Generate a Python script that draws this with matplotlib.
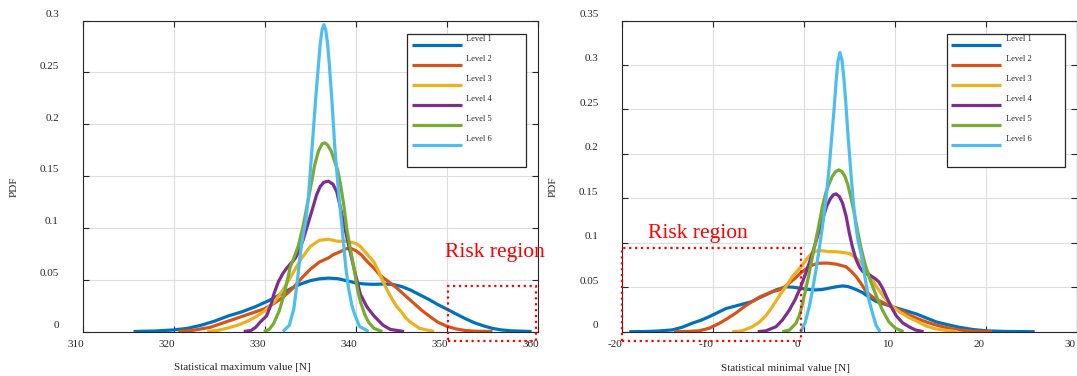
import numpy as np
import matplotlib
matplotlib.use('Agg')
import matplotlib.pyplot as plt
from matplotlib.patches import Rectangle
from matplotlib.transforms import ScaledTranslation

plt.rcParams['font.family'] = ['Liberation Serif', 'DejaVu Serif']
plt.rcParams['axes.unicode_minus'] = False

levels = ['Level 1', 'Level 2', 'Level 3', 'Level 4', 'Level 5', 'Level 6']
colors = ['#0072BD', '#D95319', '#EDB120', '#7E2F8E', '#77AC30', '#4DBEEE']

#------- statistical maximum value [N]
max_x1 = [315.6, 318, 320, 321.5, 323, 324.5, 326, 327.5, 329, 330.5, 332, 333, 334, 335, 336,
          337, 338, 339, 340, 341, 342, 343, 344, 345, 346, 347, 348, 349, 350, 351, 352,
          353, 354, 355, 356, 357, 359.3]
max_p1 = [0, 0.0005, 0.0015, 0.003, 0.006, 0.010, 0.015, 0.019, 0.024, 0.030, 0.037, 0.042,
          0.046, 0.049, 0.0508, 0.0515, 0.051, 0.049, 0.0468, 0.0458, 0.0455, 0.0458, 0.0455,
          0.0435, 0.040, 0.0355, 0.031, 0.026, 0.0215, 0.017, 0.0125, 0.0085, 0.0055, 0.003,
          0.0015, 0.0007, 0]
max_x2 = [320.5, 322, 324, 326, 328, 330, 331, 332, 333, 334, 335, 336, 337, 337.5, 338.3,
          339, 339.5, 340, 340.6, 341.2, 342, 342.7, 343.6, 344.5, 345.5, 346.4, 347.3, 348.2,
          349, 350, 351, 352, 353, 355]
max_p2 = [0, 0.001, 0.004, 0.010, 0.016, 0.022, 0.027, 0.033, 0.041, 0.051, 0.060, 0.067,
          0.071, 0.074, 0.077, 0.080, 0.080, 0.078, 0.074, 0.068, 0.061, 0.054, 0.048, 0.042,
          0.034, 0.027, 0.020, 0.014, 0.009, 0.005, 0.0025, 0.001, 0.0003, 0]
max_x3 = [323.7, 324.8, 325.8, 327, 328, 329, 330, 331, 332, 333, 334, 335, 336, 337, 338,
          339, 340, 340.5, 341, 341.5, 342, 342.5, 343, 343.5, 344, 344.5, 345, 345.5, 346,
          347, 348.6]
max_p3 = [0, 0.001, 0.003, 0.006, 0.0095, 0.014, 0.020, 0.028, 0.040, 0.055, 0.070, 0.082,
          0.088, 0.089, 0.087, 0.087, 0.085, 0.082, 0.077, 0.072, 0.067, 0.058, 0.048, 0.039,
          0.031, 0.024, 0.019, 0.013, 0.009, 0.003, 0]
max_x4 = [327.7, 328.5, 329, 329.5, 330.2, 330.7, 331.0, 331.5, 332.0, 332.4, 332.9, 333.3,
          333.7, 334.2, 334.6, 335.2, 335.7, 336.1, 336.5, 337.0, 337.5, 337.9, 338.3, 338.8,
          339.3, 339.8, 340.5, 341.2, 342.0, 343.0, 343.8, 345.3]
max_p4 = [0, 0.001, 0.004, 0.009, 0.015, 0.026, 0.036, 0.048, 0.056, 0.061, 0.066, 0.070,
          0.076, 0.088, 0.0995, 0.117, 0.132, 0.140, 0.144, 0.145, 0.142, 0.135, 0.120, 0.0995,
          0.080, 0.061, 0.036, 0.024, 0.015, 0.006, 0.002, 0]
max_x5 = [329.9, 330.5, 331, 331.6, 332.1, 332.5, 332.8, 333.2, 333.7, 334.2, 334.6, 335.1,
          335.5, 335.9, 336.3, 336.6, 336.9, 337.3, 337.6, 338.0, 338.3, 338.7, 339.0, 339.4,
          339.8, 340.2, 340.5, 341.0, 341.4, 342.0, 342.9]
max_p5 = [0, 0.002, 0.008, 0.020, 0.035, 0.050, 0.062, 0.071, 0.083, 0.101, 0.119, 0.142,
          0.161, 0.174, 0.181, 0.182, 0.180, 0.174, 0.166, 0.156, 0.143, 0.121, 0.0995, 0.080,
          0.061, 0.040, 0.029, 0.016, 0.009, 0.003, 0]
max_x6 = [332.0, 332.7, 333.2, 333.6, 333.9, 334.2, 334.5, 334.8, 335.2, 335.6, 335.9, 336.1,
          336.3, 336.5, 336.7, 336.9, 337.1, 337.4, 337.7, 338.1, 338.5, 338.9, 339.2, 339.6,
          339.9, 340.4, 341.4]
max_p6 = [0, 0.006, 0.022, 0.050, 0.074, 0.092, 0.106, 0.130, 0.177, 0.225, 0.257, 0.278,
          0.291, 0.296, 0.291, 0.278, 0.257, 0.220, 0.177, 0.135, 0.0995, 0.062, 0.042, 0.024,
          0.016, 0.005, 0]

#------- statistical minimal value [N]
min_x1 = [-19.2, -17.5, -16, -14.5, -13.4, -12.3, -11.3, -10.4, -9.5, -8.6, -7.5, -6.4, -5.7,
          -4.95, -4.0, -3.1, -2.0, -1.2, -0.5, 0.4, 1.3, 2.0, 2.75, 3.5, 4.2, 4.8, 5.3, 5.9,
          6.4, 7.1, 7.9, 8.8, 9.7, 11.0, 12.3, 13.4, 14.5, 15.7, 17, 18.5, 20, 22, 25.3]
min_p1 = [0, 0.0002, 0.0008, 0.002, 0.005, 0.0095, 0.013, 0.017, 0.0215, 0.026, 0.029, 0.032,
          0.034, 0.038, 0.0425, 0.047, 0.0505, 0.050, 0.049, 0.0475, 0.047, 0.0475, 0.049,
          0.0505, 0.0515, 0.0508, 0.049, 0.0465, 0.044, 0.039, 0.034, 0.031, 0.028, 0.024,
          0.020, 0.0155, 0.011, 0.008, 0.005, 0.0025, 0.001, 0.0003, 0]
min_x2 = [-14.3, -12.8, -11.5, -10.4, -9.3, -8.4, -7.5, -6.6, -5.7, -4.9, -4.2, -3.5, -2.75,
          -2.2, -1.65, -1.0, -0.4, 0.25, 0.9, 1.65, 2.5, 3.5, 4.6, 5.15, 5.7, 6.25, 6.8, 7.5,
          8.2, 9.0, 9.9, 10.8, 11.7, 12.5, 13.4, 14.3, 15.2, 16.1, 17, 18.5, 20.6]
min_p2 = [0, 0.0003, 0.001, 0.004, 0.0095, 0.015, 0.021, 0.028, 0.034, 0.039, 0.042, 0.045,
          0.047, 0.050, 0.0545, 0.060, 0.066, 0.071, 0.075, 0.077, 0.0772, 0.076, 0.073, 0.068,
          0.062, 0.054, 0.045, 0.039, 0.035, 0.031, 0.027, 0.0225, 0.018, 0.0145, 0.011, 0.008,
          0.0056, 0.0035, 0.002, 0.0006, 0]
min_x3 = [-7.9, -6.8, -5.7, -4.9, -4.2, -3.5, -2.75, -2.0, -1.3, -0.7, -0.2, 0.3, 0.9, 1.45,
          2.0, 2.7, 3.5, 4.3, 4.95, 5.4, 5.9, 6.35, 6.8, 7.35, 7.9, 8.7, 9.5, 10.5, 11.5, 12.5,
          13.4, 14.3, 15.2, 16.8]
min_p3 = [0, 0.001, 0.0056, 0.011, 0.018, 0.028, 0.040, 0.051, 0.062, 0.069, 0.075, 0.082,
          0.089, 0.091, 0.091, 0.090, 0.090, 0.089, 0.088, 0.085, 0.081, 0.076, 0.070, 0.061,
          0.051, 0.040, 0.030, 0.022, 0.016, 0.011, 0.0064, 0.0035, 0.002, 0]
min_x4 = [-5.1, -4.2, -3.1, -2.4, -1.65, -1.0, -0.4, 0.25, 0.9, 1.45, 2.0, 2.5, 2.9, 3.2, 3.5,
          3.85, 4.2, 4.6, 4.95, 5.3, 5.7, 6.05, 6.4, 6.85, 7.3, 7.75, 8.2, 8.6, 9.0, 9.5, 10.1,
          10.8, 11.5, 12.2, 13.1]
min_p4 = [0, 0.001, 0.0056, 0.013, 0.024, 0.036, 0.050, 0.068, 0.088, 0.107, 0.126, 0.142,
          0.150, 0.154, 0.155, 0.152, 0.145, 0.130, 0.111, 0.095, 0.081, 0.073, 0.068, 0.065,
          0.063, 0.060, 0.056, 0.049, 0.040, 0.029, 0.018, 0.010, 0.0056, 0.002, 0]
min_x5 = [-2.4, -1.6, -0.9, -0.5, -0.18, 0.2, 0.55, 0.9, 1.28, 1.65, 2.0, 2.4, 2.75, 3.1,
          3.45, 3.8, 4.15, 4.5, 4.8, 5.15, 5.5, 5.85, 6.2, 6.65, 7.1, 7.55, 8.0, 8.6, 9.3,
          10.0, 10.9]
min_p5 = [0, 0.002, 0.0095, 0.019, 0.032, 0.049, 0.066, 0.084, 0.103, 0.122, 0.141, 0.157,
          0.167, 0.175, 0.180, 0.182, 0.180, 0.174, 0.165, 0.150, 0.133, 0.114, 0.096, 0.077,
          0.062, 0.050, 0.038, 0.024, 0.011, 0.004, 0]
min_x6 = [-0.4, 0.1, 0.55, 0.9, 1.28, 1.65, 2.0, 2.4, 2.75, 3.05, 3.3, 3.5, 3.7, 3.92, 4.15,
          4.35, 4.55, 4.8, 5.13, 5.4, 5.68, 5.95, 6.23, 6.5, 6.78, 7.1, 7.5, 7.9, 8.33]
min_p6 = [0, 0.010, 0.028, 0.046, 0.069, 0.093, 0.118, 0.150, 0.186, 0.222, 0.253, 0.281,
          0.304, 0.314, 0.305, 0.286, 0.260, 0.222, 0.178, 0.145, 0.118, 0.100, 0.088, 0.072,
          0.0545, 0.036, 0.0207, 0.007, 0]

max_ticks = [310, 320, 330, 340, 350, 360]
min_ticks = [-20, -10, 0, 10, 20, 30]
max_yticks = [0, 0.05, 0.1, 0.15, 0.2, 0.25, 0.3]
min_yticks = [0, 0.05, 0.1, 0.15, 0.2, 0.25, 0.3, 0.35]

dpi = 100
ink = '#262626'

fig = plt.figure(figsize=(10.77, 3.76), dpi=dpi)
ax1 = fig.add_axes([82.5 / 1077, 44.5 / 376, 455.5 / 1077, 311 / 376])
ax2 = fig.add_axes([622 / 1077, 44.3 / 376, 455.5 / 1077, 311.2 / 376])


def shift(labels, dx, dy):
    # move tick labels by a few pixels
    off = ScaledTranslation(dx / dpi, dy / dpi, fig.dpi_scale_trans)
    for lab in labels:
        lab.set_transform(lab.get_transform() + off)


def draw_panel(ax, curves, xticks, yticks, xlabel, xlabel_pos, risk_box, risk_text):
    for (x, p), c, name in zip(curves, colors, levels):
        ax.plot(x, p, color=c, lw=2.3, label=name, solid_capstyle='butt',
                solid_joinstyle='round')

    ax.set_xlim(xticks[0], xticks[-1])
    ax.set_ylim(yticks[0], yticks[-1])
    ax.set_xticks(xticks)
    ax.set_xticklabels([str(t) for t in xticks])
    ax.set_yticks(yticks)
    ax.set_yticklabels(['%g' % t for t in yticks])
    ax.tick_params(direction='in', top=True, right=True, length=4, width=0.8,
                   colors=ink, labelsize=8)
    ax.tick_params(axis='x', pad=6.2)
    ax.tick_params(axis='y', pad=17)
    shift(ax.get_xticklabels(), -7, 0)
    shift(ax.get_yticklabels(), 0, 7)

    ax.grid(True, color='#dedede', lw=0.8)
    ax.set_axisbelow(True)
    for s in ax.spines.values():
        s.set_color(ink)
        s.set_linewidth(0.8)

    ax.set_xlabel(xlabel, fontsize=8, color=ink, va='center')
    ax.xaxis.set_label_coords(xlabel_pos, -0.117)
    ax.set_ylabel('PDF', fontsize=8, color=ink, va='center')
    ax.yaxis.set_label_coords(-0.151, 0.465)

    # legend box
    ax.add_patch(Rectangle((0.713, 0.53), 0.26, 0.427, transform=ax.transAxes,
                           facecolor='white', edgecolor=ink, lw=0.9, zorder=4))
    leg = ax.legend(loc='upper left', bbox_to_anchor=(0.7227, 0.952), borderaxespad=0,
                    borderpad=0, frameon=False, fontsize=6, handlelength=6.0,
                    handletextpad=0.52, labelspacing=1.43)
    leg.set_zorder(5)
    for t in leg.get_texts():
        t.set_color(ink)
    for l in leg.get_lines():
        l.set_ydata(np.asarray(l.get_ydata()) - 4.8)

    # risk region
    x0, x1, y0, y1 = risk_box
    ax.add_patch(Rectangle((x0, y0), x1 - x0, y1 - y0, fill=False, edgecolor='red',
                           lw=1.6, ls=':', clip_on=False, zorder=6))
    ax.text(risk_text[0], risk_text[1], 'Risk region', color='red', fontsize=15.5,
            ha='left', va='baseline')


max_curves = [(max_x1, max_p1), (max_x2, max_p2), (max_x3, max_p3),
              (max_x4, max_p4), (max_x5, max_p5), (max_x6, max_p6)]
min_curves = [(min_x1, min_p1), (min_x2, min_p2), (min_x3, min_p3),
              (min_x4, min_p4), (min_x5, min_p5), (min_x6, min_p6)]

draw_panel(ax1, max_curves, max_ticks, max_yticks, 'Statistical maximum value [N]', 0.352,
           (350.1, 359.8, -0.009, 0.044), (349.8, 0.0722))
draw_panel(ax2, min_curves, min_ticks, min_yticks, 'Statistical minimal value [N]', 0.36,
           (-20, -0.3, -0.0105, 0.094), (-17.1, 0.105))

fig.savefig('out.png', dpi=dpi)
